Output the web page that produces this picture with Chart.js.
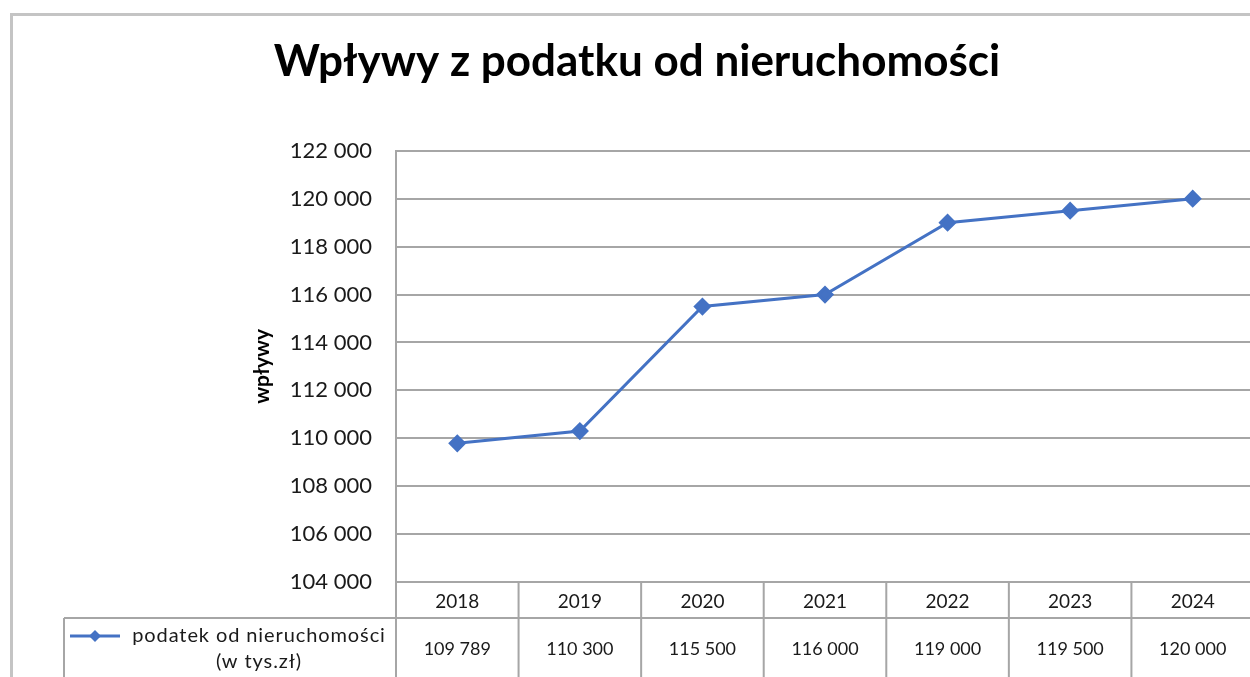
<!DOCTYPE html>
<html>
<head>
<meta charset="utf-8">
<script src="https://cdn.jsdelivr.net/npm/chart.js@4.4.1/dist/chart.umd.min.js"></script>
<style>
    html, body { margin: 0; padding: 0; background: #fff; overflow: hidden; }
    #wrap { position: relative; width: 1264px; height: 677px; }
</style>
</head>
<body>
<div id="wrap"><canvas id="chart" width="1264" height="677"></canvas></div>
<script>
// data
const years = ['2018', '2019', '2020', '2021', '2022', '2023', '2024'];
const wplywy = [109789, 110300, 115500, 116000, 119000, 119500, 120000];
const seriesLines = ['podatek od nieruchomości', '(w tys.zł)'];
const chartTitle = 'Wpływy z podatku od nieruchomości';
const axisTitle = 'wpływy';
const yMin = 104000, yMax = 122000, yStep = 2000;

const FONT = 'Lato, "Open Sans", sans-serif';
const lineColor = '#4472C4';
const gridColor = '#a6a6a6';

// "122 000" style thousands separator
const fmt = v => String(v).replace(/\B(?=(\d{3})+(?!\d))/g, ' ');

// outer frame + data table under the plot
const tablePlugin = {
    id: 'dataTable',
    beforeDraw(chart) {
        const ctx = chart.ctx;
        ctx.save();
        ctx.strokeStyle = '#c4c4c4';
        ctx.lineWidth = 3;
        ctx.beginPath();
        ctx.moveTo(11.5, chart.height + 5);
        ctx.lineTo(11.5, 14.5);
        ctx.lineTo(chart.width + 5, 14.5);
        ctx.stroke();
        ctx.restore();
    },
    afterDraw(chart) {
        const { ctx, chartArea } = chart;
        const x = chart.scales.x;
        const rowTop = chartArea.bottom + 36;
        const legendLeft = 64;
        const half = (x.getPixelForTick(1) - x.getPixelForTick(0)) / 2;

        ctx.save();
        ctx.strokeStyle = gridColor;
        ctx.lineWidth = 2;
        ctx.beginPath();
        ctx.moveTo(legendLeft, rowTop);
        ctx.lineTo(chart.width, rowTop);
        ctx.moveTo(legendLeft, rowTop);
        ctx.lineTo(legendLeft, chart.height);
        ctx.moveTo(chartArea.left, chartArea.bottom);
        ctx.lineTo(chartArea.left, chart.height);
        years.forEach((_, i) => {
            const px = x.getPixelForTick(i) + half;
            ctx.moveTo(px, chartArea.bottom);
            ctx.lineTo(px, chart.height);
        });
        ctx.stroke();

        // values row
        ctx.fillStyle = '#1a1a1a';
        ctx.font = '18px ' + FONT;
        ctx.textAlign = 'center';
        ctx.textBaseline = 'middle';
        wplywy.forEach((v, i) => {
            ctx.fillText(fmt(v), x.getPixelForTick(i), rowTop + 31);
        });

        // legend key
        ctx.strokeStyle = lineColor;
        ctx.lineWidth = 3;
        ctx.beginPath();
        ctx.moveTo(70, rowTop + 18);
        ctx.lineTo(120, rowTop + 18);
        ctx.stroke();
        ctx.fillStyle = lineColor;
        ctx.beginPath();
        ctx.moveTo(95, rowTop + 12);
        ctx.lineTo(101, rowTop + 18);
        ctx.lineTo(95, rowTop + 24);
        ctx.lineTo(89, rowTop + 18);
        ctx.closePath();
        ctx.fill();

        ctx.fillStyle = '#1a1a1a';
        ctx.font = '20px ' + FONT;
        ctx.letterSpacing = '0.9px';
        ctx.fillText(seriesLines[0], 259, rowTop + 18);
        ctx.fillText(seriesLines[1], 259, rowTop + 44);
        ctx.restore();
    }
};

const ctx = document.getElementById('chart').getContext('2d');
new Chart(ctx, {
    type: 'line',
    data: {
        labels: years,
        datasets: [{
            label: seriesLines.join(' '),
            data: wplywy,
            borderColor: lineColor,
            backgroundColor: lineColor,
            borderWidth: 3,
            pointStyle: 'rectRot',
            pointRadius: 7,
            pointHoverRadius: 7,
            tension: 0
        }]
    },
    options: {
        responsive: false,
        animation: false,
        layout: { padding: { left: 10, right: 0, top: 0, bottom: 0 } },
        plugins: {
            legend: { display: false },
            tooltip: { enabled: false },
            title: {
                display: true,
                text: chartTitle,
                color: '#000',
                font: { family: FONT, size: 44, weight: 'bold' },
                padding: { top: 35, bottom: 63 }
            }
        },
        scales: {
            x: {
                offset: true,
                grid: { display: false, drawTicks: false },
                border: { display: false },
                ticks: { color: '#1a1a1a', font: { family: FONT, size: 19 }, padding: 8 },
                afterFit(s) { s.height = 95; }
            },
            y: {
                min: yMin,
                max: yMax,
                ticks: {
                    stepSize: yStep,
                    color: '#1a1a1a',
                    font: { family: FONT, size: 22 },
                    padding: 24,
                    callback: v => fmt(v)
                },
                grid: { color: gridColor, lineWidth: 2, drawTicks: false },
                border: { color: gridColor, width: 2 },
                title: {
                    display: true,
                    text: axisTitle,
                    color: '#000',
                    font: { family: FONT, size: 21, weight: 'bold' },
                    padding: { top: 240, bottom: 0 }
                },
                afterFit(s) { s.width = 386; }
            }
        }
    },
    plugins: [tablePlugin]
});
</script>
</body>
</html>
